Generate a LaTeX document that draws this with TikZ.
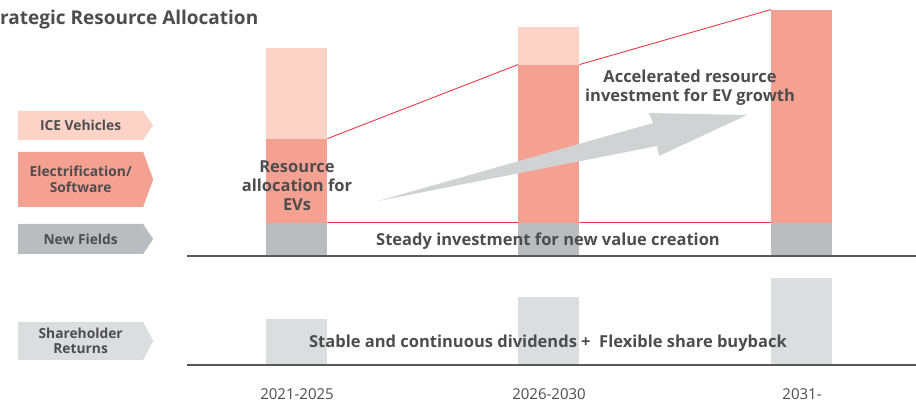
\documentclass[tikz,border=0pt]{standalone}
\usepackage{fontspec}
\setmainfont{Open Sans}
\usetikzlibrary{shapes.symbols}
\definecolor{iceclr}{HTML}{FCD3C6}
\definecolor{evclr}{HTML}{F5A192}
\definecolor{nfclr}{HTML}{BBBCC0}
\definecolor{shclr}{HTML}{DCDDDF}
\definecolor{arrclr}{HTML}{D1D2D4}
\definecolor{redclr}{HTML}{E83A45}
\definecolor{txtclr}{HTML}{4D4D4F}
\definecolor{axisclr}{HTML}{58585A}

\begin{document}
\begin{tikzpicture}[x=1pt,y=-1pt,
                    bar/.style={rectangle,inner sep=0pt,minimum width=61pt,anchor=south west},
                    tag node/.style={signal,signal to=east,inner sep=0pt,minimum width=135pt,anchor=west,
                                     text=txtclr,align=center,font=\bfseries\fontsize{13.8}{15.5}\selectfont},
                    big text/.style={text=txtclr,align=center,font=\bfseries\fontsize{16.5}{19}\selectfont},
                    year node/.style={text=txtclr,font=\fontsize{15}{17}\selectfont}]

  \useasboundingbox (0,0) rectangle (916,403);

  \node[bar,fill=iceclr,minimum height=91pt] (ice1) at (266,139) {};
  \node[bar,fill=evclr,minimum height=84pt] (ev1) at (266,223) {};
  \node[bar,fill=iceclr,minimum height=38pt] (ice2) at (518,65) {};
  \node[bar,fill=evclr,minimum height=158pt] (ev2) at (518,223) {};
  \node[bar,fill=evclr,minimum height=213pt] (ev3) at (771,223) {};
  \foreach \x [count=\i] in {266,518,771}
    \node[bar,fill=nfclr,minimum height=33pt] (nf\i) at (\x,256) {};
  \foreach \x/\h [count=\i] in {266/46,518/68,771/87}
    \node[bar,fill=shclr,minimum height=\h pt] (sh\i) at (\x,365) {};

  \draw[redclr,line width=0.9pt]
    (ev1.north east) -- (ev2.north west)
    (ev2.north east) -- (ev3.north west)
    ([yshift=0.5pt]ev1.south east) -- ([yshift=0.5pt]ev2.south west)
    ([yshift=0.5pt]ev2.south east) -- ([yshift=0.5pt]ev3.south west);

  \coordinate (tail) at (378,201);
  \coordinate (tip) at (747,115);
  \fill[arrclr] (tail) -- (653,123) -- (649,113) -- (tip) -- (659,156) -- (657,146) -- cycle;

  \coordinate (upper axis) at (187,256);
  \coordinate (lower axis) at (187,365);
  \draw[axisclr,line width=1.6pt] (upper axis) -- +(729,0)
                                  (lower axis) -- +(729,0);

  \node[tag node,fill=iceclr,minimum height=29pt,signal pointer angle=110] (ice) at (18,125.5) {ICE Vehicles};
  \node[tag node,fill=evclr,minimum height=55pt,signal pointer angle=140] (ev) at (18,179.5) {Electrification/\\Software};
  \node[tag node,fill=nfclr,minimum height=30pt,signal pointer angle=112] (nf) at (18,239) {New Fields};
  \node[tag node,fill=shclr,minimum height=38pt,signal pointer angle=124] (sh) at (18,341) {Shareholder\\Returns};

  \node[anchor=base west,inner sep=0pt,text=txtclr,font=\bfseries\fontsize{19}{20}\selectfont] (title) at (0,25) {rategic Resource Allocation};

  \node[big text,font=\bfseries\fontsize{16.5}{19}\selectfont] (evs) at (297,186) {Resource\\allocation for\\EVs};
  \node[big text,font=\bfseries\fontsize{16.5}{19}\selectfont] (accel) at (690,88) {Accelerated resource\\investment for EV growth};
  \node[big text] (steady) at (548,241) {Steady investment for new value creation};
  \node[big text] (stable) at (548,343) {Stable and continuous dividends +\ \ Flexible share buyback};

  \node[year node] (y1) at (297,394) {2021-2025};
  \node[year node] (y2) at (549,394) {2026-2030};
  \node[year node] (y3) at (802,394) {2031-};
\end{tikzpicture}
\end{document}
